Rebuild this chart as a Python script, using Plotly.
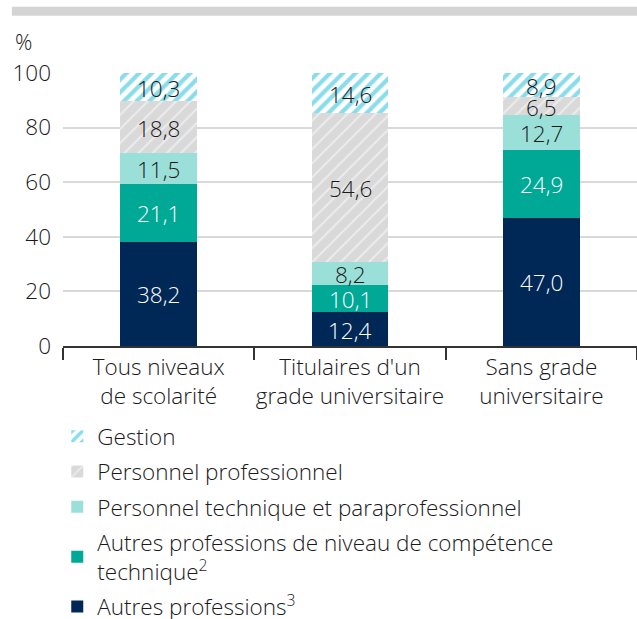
import plotly.graph_objects as go

categories = ["Tous niveaux<br>de scolarité",
              "Titulaires d'un<br>grade universitaire",
              "Sans grade<br>universitaire"]

autres = [38.2, 12.4, 47.0]
autres_comp = [21.1, 10.1, 24.9]
technique = [11.5, 8.2, 12.7]
professionnel = [18.8, 54.6, 6.5]
gestion = [10.3, 14.6, 8.9]

y_ticks = [0, 20, 40, 60, 80, 100]

FONT = "Open Sans"
TXT = "#1a1a1a"
FS = 22.5


def fmt(v):
    return f"{v:.1f}".replace(".", ",")


series = [
    ("Autres professions<sup>3</sup>", autres,
     dict(color="#002856"), "white"),
    ("Autres professions de niveau de compétence<br>technique<sup>2</sup>", autres_comp,
     dict(color="#00a896"), "white"),
    ("Personnel technique et paraprofessionnel", technique,
     dict(color="#9be0d8"), TXT),
    ("Personnel professionnel", professionnel,
     dict(color="#d9d9d9",
          pattern=dict(shape="/", fgcolor="white", bgcolor="#d9d9d9",
                       size=10, solidity=0.2)), TXT),
    ("Gestion", gestion,
     dict(color="#14bcd8",
          pattern=dict(shape="/", fgcolor="#14bcd8", bgcolor="white",
                       size=9, solidity=0.48, fillmode="overlay")), TXT),
]

fig = go.Figure()
annotations = []
base = [0.0] * len(categories)
n = len(series)
for i, (name, vals, marker, tcolor) in enumerate(series):
    fig.add_trace(go.Bar(
        x=categories, y=vals, name=name, legendgroup=f"g{i}",
        legendrank=n - i,
        marker=dict(line=dict(width=0), **marker),
        hoverinfo="skip",
    ))
    # value label centred in each stacked segment
    for j, v in enumerate(vals):
        annotations.append(dict(
            x=categories[j], y=base[j] + v / 2, xref="x", yref="y",
            text=fmt(v), showarrow=False, yshift=-1,
            font=dict(family=FONT, size=FS, color=tcolor, weight=300),
        ))
        base[j] += v

annotations.append(dict(text="%", xref="paper", yref="paper",
                        x=-0.087, y=1.055, xanchor="left", yanchor="bottom",
                        showarrow=False,
                        font=dict(family=FONT, size=FS - 1, color=TXT, weight=300)))

fig.update_layout(
    width=637, height=619,
    margin=dict(l=63, r=0, t=73, b=273),
    barmode="stack",
    bargap=0.6,
    plot_bgcolor="white", paper_bgcolor="white",
    font=dict(family=FONT, size=FS, color=TXT, weight=300),
    showlegend=True,
    legend=dict(
        x=-0.01, xanchor="left",
        yref="container", y=0.3292, yanchor="top",
        traceorder="grouped",
        font=dict(family=FONT, size=FS, color=TXT, weight=300),
        itemwidth=30, tracegroupgap=3,
        bgcolor="rgba(0,0,0,0)",
    ),
    shapes=[dict(type="rect", xref="paper", yref="paper",
                 x0=-0.089, x1=1.0, y0=1.21, y1=1.243,
                 fillcolor="#d4d4d4", line=dict(width=0))],
    annotations=annotations,
)

fig.update_yaxes(
    range=[0, 100], tickvals=y_ticks, automargin=False,
    showgrid=True, gridcolor="#d9d9d9", gridwidth=1.5,
    zeroline=False, showline=False,
    tickfont=dict(family=FONT, size=FS, color=TXT, weight=300),
    ticks="", ticklabelstandoff=11,
)
fig.update_xaxes(
    automargin=False, tickangle=0,
    showline=True, linecolor="#333333", linewidth=1.5,
    ticks="outside", tickson="boundaries", ticklen=12,
    tickcolor="#333333", tickwidth=1.5,
    tickfont=dict(family=FONT, size=FS, color=TXT, weight=300),
)

fig.write_html("out.html")
